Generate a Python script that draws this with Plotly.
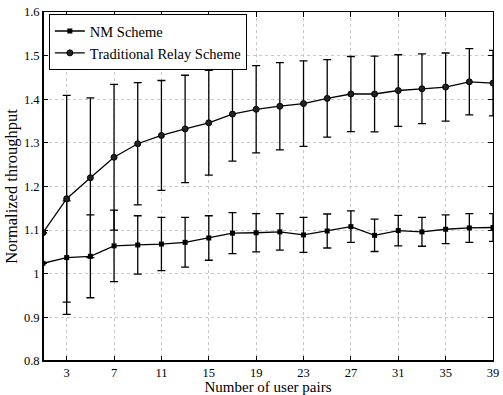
import plotly.graph_objects as go

x_pairs = [1, 3, 5, 7, 9, 11, 13, 15, 17, 19, 21, 23, 25, 27, 29, 31, 33, 35, 37, 39]
nm_vals = [1.024, 1.037, 1.040, 1.064, 1.066, 1.068, 1.072, 1.082, 1.093, 1.094,
           1.096, 1.089, 1.098, 1.108, 1.088, 1.099, 1.096, 1.102, 1.105, 1.106]
nm_err = [0.0, 0.130, 0.095, 0.082, 0.067, 0.061, 0.057, 0.051, 0.047, 0.044,
          0.042, 0.040, 0.039, 0.036, 0.037, 0.035, 0.033, 0.033, 0.033, 0.032]
trad_vals = [1.094, 1.172, 1.220, 1.267, 1.298, 1.317, 1.332, 1.346, 1.366, 1.377,
             1.384, 1.390, 1.402, 1.412, 1.412, 1.420, 1.424, 1.428, 1.440, 1.437]
trad_err = [0.0, 0.237, 0.183, 0.167, 0.140, 0.126, 0.123, 0.120, 0.108, 0.100,
            0.100, 0.098, 0.089, 0.086, 0.087, 0.082, 0.080, 0.078, 0.076, 0.075]
x_ticks = [3, 7, 11, 15, 19, 23, 27, 31, 35, 39]
y_ticks = [0.8, 0.9, 1.0, 1.1, 1.2, 1.3, 1.4, 1.5, 1.6]
y_tick_text = ["0.8", "0.9", "1", "1.1", "1.2", "1.3", "1.4", "1.5", "1.6"]

FONT = "Liberation Serif, Times New Roman, serif"

fig = go.Figure()
fig.add_trace(go.Scatter(
    x=x_pairs, y=nm_vals, name="NM Scheme", mode="lines+markers",
    line=dict(color="black", width=1.3),
    marker=dict(symbol="square", size=5, color="black"),
    error_y=dict(type="data", array=nm_err, visible=True, color="black",
                 thickness=1.3, width=4),
))
fig.add_trace(go.Scatter(
    x=x_pairs, y=trad_vals, name="Traditional Relay Scheme", mode="lines+markers",
    line=dict(color="black", width=1.3),
    marker=dict(symbol="circle", size=6, color="#222222",
                line=dict(color="black", width=1)),
    error_y=dict(type="data", array=trad_err, visible=True, color="black",
                 thickness=1.3, width=4),
))

axis_common = dict(
    showline=True, linecolor="black", linewidth=1, mirror="ticks",
    ticks="inside", ticklen=5, tickcolor="black", tickwidth=1,
    showgrid=True, gridcolor="#c8c8c8", griddash="dot", gridwidth=1,
    zeroline=False,
    tickfont=dict(family=FONT, size=12.5, color="black"),
)

fig.update_xaxes(range=[1, 39], tickvals=x_ticks, ticklabeloverflow="allow",
                 title=dict(text="Number of user pairs",
                            font=dict(family=FONT, size=15, color="black"),
                            standoff=0),
                 **axis_common)
fig.update_yaxes(range=[0.8, 1.6], tickvals=y_ticks, ticktext=y_tick_text,
                 title=dict(text="Normalized throughput",
                            font=dict(family=FONT, size=16.5, color="black"),
                            standoff=2),
                 **axis_common)

# thicker left and bottom axis lines
fig.add_shape(type="line", xref="paper", yref="paper", x0=0, x1=0, y0=0, y1=1,
              line=dict(color="black", width=2))
fig.add_shape(type="line", xref="paper", yref="paper", x0=0, x1=1, y0=0, y1=0,
              line=dict(color="black", width=2))

fig.update_layout(
    width=503, height=395,
    margin=dict(l=43, r=4, t=12, b=32),
    plot_bgcolor="white", paper_bgcolor="white",
    font=dict(family=FONT, color="black"),
    legend=dict(x=0.013, y=0.994, xanchor="left", yanchor="top",
                bgcolor="white", bordercolor="black", borderwidth=1,
                font=dict(family=FONT, size=14.5, color="black"),
                itemwidth=30, tracegroupgap=0),
    showlegend=True,
)

fig.write_html("out.html")
